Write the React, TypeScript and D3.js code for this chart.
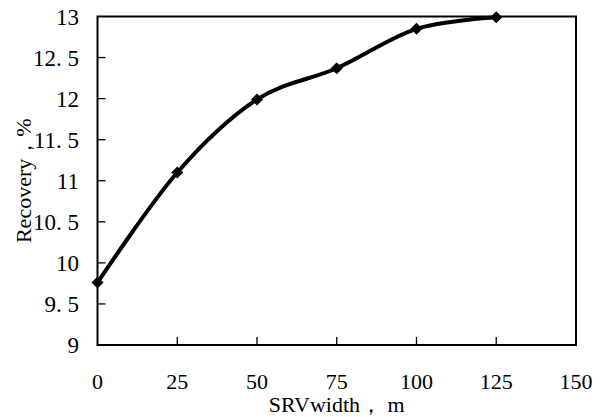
import React from "react";
import * as d3 from "d3";

const widths = [0, 25, 50, 75, 100, 125];
const recovery = [9.76, 11.1, 11.99, 12.37, 12.85, 12.99];
const xTicks = [0, 25, 50, 75, 100, 125, 150];
const yTicks = [9, 9.5, 10, 10.5, 11, 11.5, 12, 12.5, 13];
const xTitle = "SRVwidth， m";
const yTitle = "Recovery，%";

const W = 605;
const H = 417;
const L = 97.5;
const R = 576;
const T = 16.5;
const B = 345;
const FONT = "'Liberation Serif', 'Times New Roman', serif";

function fmtY(v: number) {
  const s = String(v);
  return s.includes(".") ? s.replace(".", ". ") : s;
}

export default function App() {
  const x = d3.scaleLinear().domain([0, 150]).range([L, R]);
  const y = d3.scaleLinear().domain([9, 13]).range([B, T]);
  const pts: [number, number][] = widths.map((w, i) => [x(w), y(recovery[i])]);
  const line = d3.line().curve(d3.curveCatmullRom.alpha(0))(pts) || "";
  const diamond = d3.symbol().type(d3.symbolSquare).size(72)() || "";
  const ts = { fontFamily: FONT };

  return (
    <svg
      width={W}
      height={H}
      style={{ position: "absolute", left: 0, top: 0, background: "#fff", fontFamily: FONT }}
    >
      <rect x={0} y={0} width={W} height={H} fill="#fff" />
      {yTicks.slice(1, -1).map((t) => (
        <line key={"yt" + t} x1={L} x2={L + 8} y1={y(t)} y2={y(t)} stroke="#000" strokeWidth={1.3} />
      ))}
      {xTicks.slice(1, -1).map((t) => (
        <line key={"xt" + t} x1={x(t)} x2={x(t)} y1={B} y2={B - 8} stroke="#000" strokeWidth={1.3} />
      ))}
      <rect x={L} y={T} width={R - L} height={B - T} fill="none" stroke="#000" strokeWidth={2} />
      {yTicks.map((t) => (
        <text key={"yl" + t} style={ts} x={79} y={y(t)} dy="0.35em" textAnchor="end" fontSize={23} fill="#000">
          {fmtY(t)}
        </text>
      ))}
      {xTicks.map((t) => (
        <text key={"xl" + t} style={ts} x={x(t)} y={381} dy="0.35em" textAnchor="middle" fontSize={22} fill="#000">
          {t}
        </text>
      ))}
      <text style={ts} x={(L + R) / 2} y={404} dy="0.35em" textAnchor="middle" fontSize={22} fill="#000">
        {xTitle}
      </text>
      <text
        style={ts}
        transform={`translate(23, ${(T + B) / 2}) rotate(-90)`}
        dy="0.35em"
        textAnchor="middle"
        fontSize={22}
        fill="#000"
      >
        {yTitle}
      </text>
      <path d={line} fill="none" stroke="#000" strokeWidth={4} strokeLinejoin="round" />
      {pts.map((p, i) => (
        <path key={"m" + i} d={diamond} transform={`translate(${p[0]},${p[1]}) rotate(45)`} fill="#000" />
      ))}
    </svg>
  );
}
